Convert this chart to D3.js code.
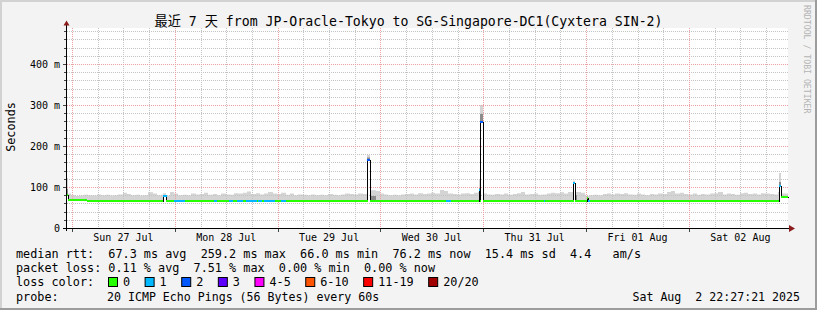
<!DOCTYPE html>
<html>
<head>
<meta charset="utf-8">
<script src="https://cdn.jsdelivr.net/npm/d3@7"></script>
<style>
  html, body { margin: 0; padding: 0; background: #f3f3f3; }
  svg { display: block; }
  text { font-family: "DejaVu Sans Mono", "Noto Sans CJK SC", monospace; white-space: pre; }
</style>
</head>
<body>
<svg id="chart" width="817" height="310"></svg>
<script>
// graph window (UTC), data hours are counted from graphStart
const graphStart = new Date(Date.UTC(2025, 6, 26, 22, 50));
const graphEnd = new Date(Date.UTC(2025, 7, 2, 23, 7));
const dataEnd = 168.2;

// median rtt level changes (hour, ms)
const medianAt = [0, 4.6];
const medianLevel = [69.5, 67];

// top of the smoke, one value per hour (ms)
const smokeHourly = [
  84, 80, 78, 79, 81, 80, 79, 82, 80, 81, 79, 80, 82, 86, 83, 80, 81, 79, 80, 87, 84, 80, 81, 79,
  88, 84, 80, 81, 80, 84, 82, 83, 86, 81, 83, 80, 84, 82, 81, 85, 84, 86, 89, 83, 85, 82, 84, 88,
  84, 83, 86, 81, 84, 80, 82, 81, 80, 82, 80, 81, 80, 83, 81, 80, 82, 84, 83, 82, 84, 83, 82, 86,
  90, 84, 82, 80, 81, 80, 82, 83, 84, 82, 85, 83, 84, 86, 84, 93, 90, 84, 83, 82, 84, 85, 83, 86,
  88, 84, 82, 81, 83, 82, 84, 81, 83, 85, 88, 82, 83, 84, 81, 82, 84, 86, 85, 87, 84, 88, 86, 88,
  86, 78, 80, 81, 80, 83, 84, 82, 84, 83, 85, 82, 81, 84, 82, 80, 83, 82, 84, 83, 88, 90, 84, 86,
  83, 82, 84, 81, 83, 82, 84, 85, 88, 82, 84, 83, 81, 85, 86, 83, 84, 82, 85, 84, 83, 82, 88, 84, 82
];

// short events (spikes) that override the hourly values
const spikeAt     = [0,   22.5, 70.1, 70.7, 96.05, 96.45, 118.2, 118.55, 121.3, 166.1, 166.55];
const spikeLen    = [0.3, 0.55, 0.6,  1.5,  0.35,  0.55,  0.35,  0.6,    0.2,   0.45,  1.65];
const spikeMedian = [80,  78,   166,  67,   92,    259.2, 110,   67,     74,    103,   76];
const spikeSmoke  = [122, 85,   178,  92,   117,   300,   115,   88,     80,    134,   84];
const spikeMid    = [95,  80,   172,  78,   100,   278,   112,   80,     76,    112,   78];
const spikeLoss   = [0,   1,    2,    0,    1,     2,     1,     0,      0,     1,     0];

// periods with lost pings (hours)
const lossFrom  = [24.9, 34.3, 37.7, 39.6, 41.7, 44.5, 45.9, 49.9, 88.5, 111.3, 121.5];
const lossTo    = [27.5, 35.0, 38.7, 41.0, 44.3, 45.4, 48.5, 51.0, 89.7, 111.5, 122.0];
const lossCount = [1, 1, 1, 1, 1, 1, 1, 1, 1, 1, 1];

// legend
const lossLabels = ["0", "1", "2", "3", "4-5", "6-10", "11-19", "20/20"];
const lossColors = ["#26ff00", "#00b8ff", "#0059ff", "#5e00ff", "#ff00ff", "#ff5500", "#ff0000", "#a10000"];
const rttStats = ["67.3 ms avg", "259.2 ms max", "66.0 ms min", "76.2 ms now", "15.4 ms sd", "4.4   am/s"];
const lossStats = ["0.11 % avg", "7.51 % max", "0.00 % min", "0.00 % now"];
const titleText = "最近 7 天 from JP-Oracle-Tokyo to SG-Singapore-DC1(Cyxtera SIN-2)";
const probeText = "20 ICMP Echo Pings (56 Bytes) every 60s";
const stampText = "Sat Aug  2 22:27:21 2025";

const svg = d3.select("#chart");
const W = 817, H = 310;
const x = d3.scaleUtc().domain([graphStart, graphEnd]).range([67, 788]);
const y = d3.scaleLinear().domain([0, 488]).range([228, 28]);
const at = h => new Date(+graphStart + h * 3600e3);
const lossColor = n => n === 0 ? lossColors[0] : n === 1 ? lossColors[1] : n === 2 ? lossColors[2]
  : n === 3 ? lossColors[3] : n <= 5 ? lossColors[4] : n <= 10 ? lossColors[5] : n < 20 ? lossColors[6] : lossColors[7];

// frame
svg.append("rect").attr("width", W).attr("height", H).attr("fill", "#f3f3f3");
svg.append("rect").attr("width", W).attr("height", 2).attr("fill", "#d2d2d2");
svg.append("rect").attr("width", 2).attr("height", H).attr("fill", "#d2d2d2");
svg.append("rect").attr("y", H - 2).attr("width", W).attr("height", 2).attr("fill", "#9c9c9c");
svg.append("rect").attr("x", W - 2).attr("width", 2).attr("height", H).attr("fill", "#9c9c9c");
svg.append("rect").attr("x", 67).attr("y", 28).attr("width", 721).attr("height", 200).attr("fill", "#fff");

// build segments
let cuts = d3.range(0, 169).concat([dataEnd], medianAt, spikeAt,
  spikeAt.map((s, i) => +(s + spikeLen[i]).toFixed(3)), lossFrom, lossTo);
cuts = Array.from(new Set(cuts.filter(h => h >= 0 && h <= dataEnd))).sort((a, b) => a - b);
const segs = [];
for (let i = 0; i < cuts.length - 1; i++) {
  const a = cuts[i], b = cuts[i + 1], m = (a + b) / 2;
  const s = spikeAt.findIndex((t, k) => m >= t && m < t + spikeLen[k]);
  if (s >= 0) {
    segs.push({a, b, med: spikeMedian[s], top: spikeSmoke[s], mid: spikeMid[s], loss: spikeLoss[s]});
  } else {
    const lv = d3.bisectRight(medianAt, m) - 1;
    const li = lossFrom.findIndex((f, k) => m >= f && m < lossTo[k]);
    const med = medianLevel[lv];
    segs.push({a, b, med, top: smokeHourly[Math.min(168, Math.floor(m))], mid: med, loss: li >= 0 ? lossCount[li] : 0});
  }
}
const pts = segs.concat([{...segs[segs.length - 1], a: dataEnd}]);
const px = h => Math.round(x(at(h)));

// smoke
svg.append("path").datum(pts)
  .attr("d", d3.area().curve(d3.curveStepAfter).x(d => px(d.a)).y0(d => y(d.med)).y1(d => y(d.top)))
  .attr("fill", "#d4d4d4");
svg.append("path").datum(pts)
  .attr("d", d3.area().curve(d3.curveStepAfter).x(d => px(d.a)).y0(d => y(d.med)).y1(d => y(d.mid)))
  .attr("fill", "#8c8c8c");

// grid
const g = svg.append("g").attr("shape-rendering", "crispEdges").attr("stroke-width", 1);
const days = d3.utcDay.range(graphStart, graphEnd);
const quarters = d3.utcHour.every(6).range(graphStart, graphEnd).filter(d => d.getUTCHours() !== 0);
g.selectAll(".vmin").data(quarters).join("line")
  .attr("x1", d => Math.round(x(d)) + 0.5).attr("x2", d => Math.round(x(d)) + 0.5)
  .attr("y1", 28).attr("y2", 228).attr("stroke", "#c4c4c4").attr("stroke-dasharray", "1,1");
const levels = d3.range(20, 488, 20);
g.selectAll(".hmin").data(levels.filter(v => v % 100 !== 0)).join("line")
  .attr("x1", 67).attr("x2", 788)
  .attr("y1", d => Math.round(y(d)) + 0.5).attr("y2", d => Math.round(y(d)) + 0.5)
  .attr("stroke", "#c4c4c4").attr("stroke-dasharray", "1,1");
g.selectAll(".vmaj").data(days).join("line")
  .attr("x1", d => Math.round(x(d)) + 0.5).attr("x2", d => Math.round(x(d)) + 0.5)
  .attr("y1", 28).attr("y2", 228).attr("stroke", "#f0a0a0").attr("stroke-dasharray", "1,1");
g.selectAll(".hmaj").data(levels.filter(v => v % 100 === 0)).join("line")
  .attr("x1", 67).attr("x2", 788)
  .attr("y1", d => Math.round(y(d)) + 0.5).attr("y2", d => Math.round(y(d)) + 0.5)
  .attr("stroke", "#f0a0a0").attr("stroke-dasharray", "1,1");

// median line: black steps, coloured by loss
svg.append("path").datum(pts)
  .attr("d", d3.line().curve(d3.curveStepAfter).x(d => px(d.a) + 0.5).y(d => Math.round(y(d.med)) + 0.5))
  .attr("fill", "none").attr("stroke", "#000").attr("stroke-width", 1).attr("shape-rendering", "crispEdges");
svg.append("g").attr("shape-rendering", "crispEdges").selectAll("line").data(segs).join("line")
  .attr("x1", d => px(d.a)).attr("x2", d => Math.max(px(d.b), px(d.a) + 1))
  .attr("y1", d => Math.round(y(d.med))).attr("y2", d => Math.round(y(d.med)))
  .attr("stroke", d => lossColor(d.loss)).attr("stroke-width", 2);

// axes
const ax = svg.append("g").attr("shape-rendering", "crispEdges").attr("stroke", "#000");
ax.append("line").attr("x1", 63).attr("x2", 789).attr("y1", 228.5).attr("y2", 228.5);
ax.append("line").attr("x1", 66.5).attr("x2", 66.5).attr("y1", 231).attr("y2", 25);
ax.selectAll(".yt").data(levels).join("line")
  .attr("x1", d => d % 100 === 0 ? 63 : 64).attr("x2", 66)
  .attr("y1", d => Math.round(y(d)) + 0.5).attr("y2", d => Math.round(y(d)) + 0.5).attr("stroke", "#444");
ax.selectAll(".xt").data(days).join("line")
  .attr("x1", d => Math.round(x(d)) + 0.5).attr("x2", d => Math.round(x(d)) + 0.5)
  .attr("y1", 229).attr("y2", 232).attr("stroke", "#444");
svg.append("path").attr("d", "M63.5,25.5L69.5,25.5L66.5,20.5Z").attr("fill", "#8b1c1c");
svg.append("path").attr("d", "M789,225L789,232L795,228.5Z").attr("fill", "#8b1c1c");

// tick labels
svg.append("g").selectAll("text").data(d3.range(0, 488, 100)).join("text")
  .attr("x", 60).attr("y", d => y(d) + 3.5).attr("text-anchor", "end")
  .attr("font-size", 10).attr("fill", "#000")
  .text(d => d === 0 ? "0" : d + " m");
svg.append("g").selectAll("text").data(days.map(d => d3.utcHour.offset(d, 12)).filter(d => d < graphEnd)).join("text")
  .attr("x", d => x(d)).attr("y", 241).attr("text-anchor", "middle")
  .attr("font-size", 10).attr("fill", "#000")
  .text(d => d3.utcFormat("%a %d %b")(d));

// titles
svg.append("text").attr("x", 408.5).attr("y", 26).attr("text-anchor", "middle")
  .attr("font-size", 13.2).attr("fill", "#000").text(titleText);
svg.append("text").attr("transform", "translate(15,127) rotate(-90)").attr("text-anchor", "middle")
  .attr("font-size", 11.8).attr("fill", "#000").text("Seconds");
svg.append("text").attr("transform", "translate(804,5) rotate(90)")
  .attr("font-size", 8.2).attr("fill", "#b4b4b4").text("RRDTOOL / TOBI OETIKER");

// legend
const legend = svg.append("g").attr("font-size", 11.8).attr("fill", "#000");
legend.append("text").attr("x", 16).attr("y", 258).text("median rtt:  " + rttStats.join("  "));
legend.append("text").attr("x", 16).attr("y", 272).text("packet loss: " + lossStats.join("  "));
legend.append("text").attr("x", 16).attr("y", 286).text("loss color:");
legend.append("text").attr("x", 16).attr("y", 300.5).text("probe:");
legend.append("text").attr("x", 107).attr("y", 300.5).attr("font-size", 11.6).text(probeText);
legend.append("text").attr("x", 800).attr("y", 300.5).attr("text-anchor", "end").attr("font-size", 11.6).text(stampText);
let lx = 108.5;
lossLabels.forEach((lab, i) => {
  legend.append("rect").attr("x", lx).attr("y", 277.5).attr("width", 9).attr("height", 9)
    .attr("fill", lossColors[i]).attr("stroke", "#000").attr("stroke-width", 1);
  const t = legend.append("text").attr("x", lx + 14.5).attr("y", 286).text(lab);
  lx += 14.5 + t.node().getComputedTextLength() + 15;
});
</script>
</body>
</html>
